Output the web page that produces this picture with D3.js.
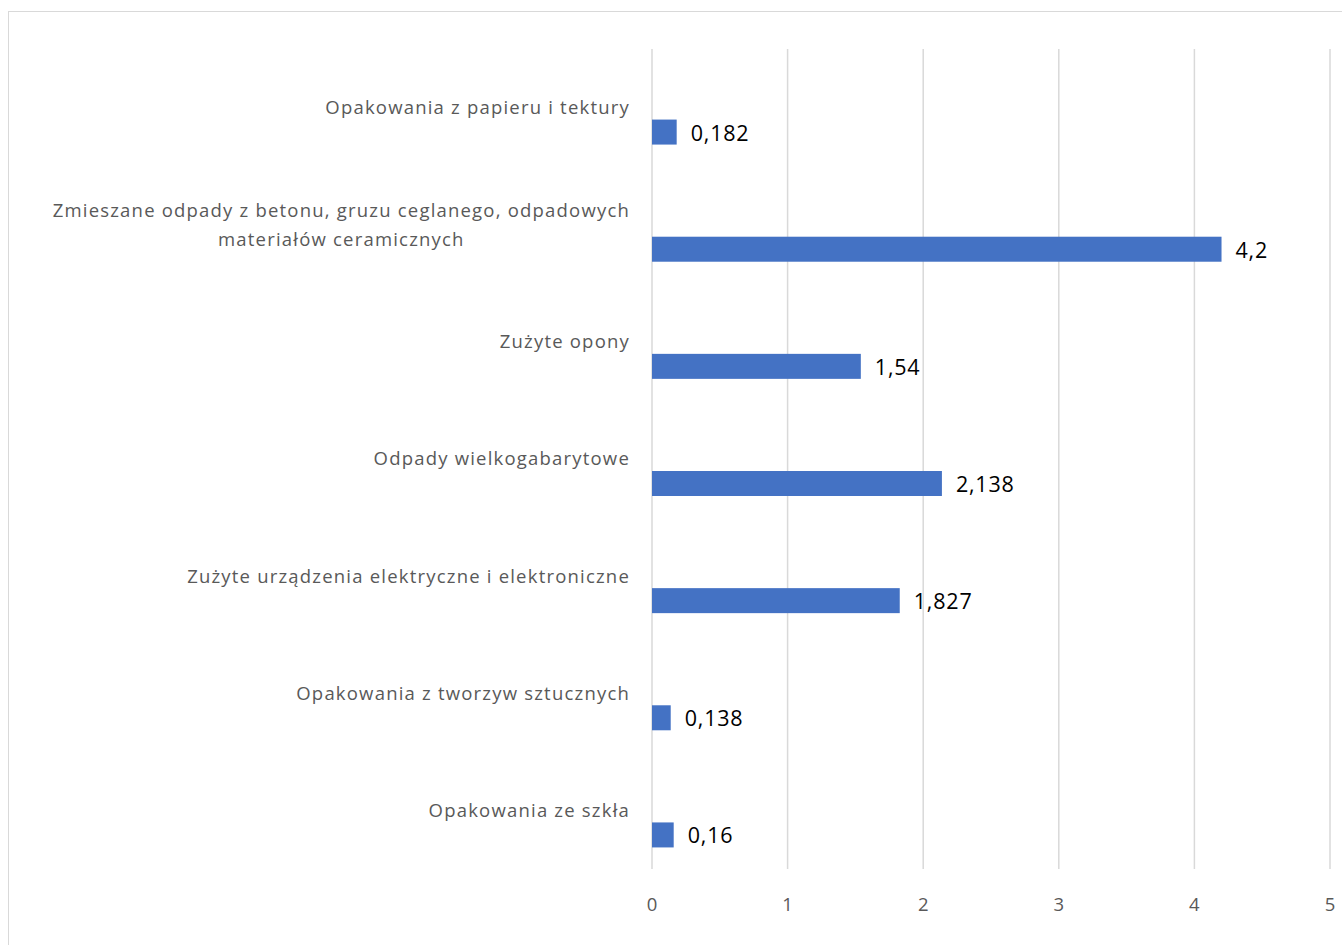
<!DOCTYPE html>
<html>
<head>
<meta charset="utf-8">
<script src="https://cdn.jsdelivr.net/npm/d3@7"></script>
<style>
  body { margin: 0; background: #fff; }
  svg { display: block; }
</style>
</head>
<body>
<svg id="chart" width="1342" height="945"></svg>
<script>
// dane z wykresu
const categories = [
  "Opakowania z papieru i tektury",
  "Zmieszane odpady z betonu, gruzu ceglanego, odpadowych|materiałów ceramicznych",
  "Zużyte opony",
  "Odpady wielkogabarytowe",
  "Zużyte urządzenia elektryczne i elektroniczne",
  "Opakowania z tworzyw sztucznych",
  "Opakowania ze szkła"
];
const values = [0.182, 4.2, 1.54, 2.138, 1.827, 0.138, 0.16];
const valueLabels = ["0,182", "4,2", "1,54", "2,138", "1,827", "0,138", "0,16"];
const xTicks = [0, 1, 2, 3, 4, 5];

const svg = d3.select('#chart');
const font = '"Open Sans", Lato, sans-serif';

// ramka obszaru wykresu
svg.append('rect')
  .attr('x', 8.5).attr('y', 11.5)
  .attr('width', 1345).attr('height', 945)
  .attr('fill', '#fff')
  .attr('stroke', '#d9d9d9');

const x = d3.scaleLinear().domain([0, 5]).range([652, 1330]);
const y = d3.scaleBand().domain(d3.range(categories.length)).range([49, 869]);

// linie siatki
svg.append('g')
  .selectAll('line')
  .data(xTicks)
  .join('line')
  .attr('x1', d => x(d)).attr('x2', d => x(d))
  .attr('y1', 49).attr('y2', 869)
  .attr('stroke', '#d9d9d9')
  .attr('stroke-width', 1.5);

// os X - etykiety
svg.append('g')
  .selectAll('text')
  .data(xTicks)
  .join('text')
  .attr('x', d => x(d))
  .attr('y', 905)
  .attr('dy', '0.35em')
  .attr('text-anchor', 'middle')
  .attr('fill', '#595959')
  .style('font', `18.5px ${font}`)
  .text(d => d);

// slupki
const barOff = 12, barH = 25;
svg.append('g')
  .selectAll('rect')
  .data(values)
  .join('rect')
  .attr('x', x(0))
  .attr('y', (d, i) => y(i) + y.bandwidth() / 2 + barOff)
  .attr('width', d => x(d) - x(0))
  .attr('height', barH)
  .attr('fill', '#4472C4');

// etykiety wartosci
svg.append('g')
  .selectAll('text')
  .data(values)
  .join('text')
  .attr('x', d => x(d) + 14)
  .attr('y', (d, i) => y(i) + y.bandwidth() / 2 + barOff + barH / 2 + 1)
  .attr('dy', '0.35em')
  .attr('fill', '#000')
  .style('font', `21.5px ${font}`)
  .style('letter-spacing', '0.8px')
  .text((d, i) => valueLabels[i]);

// etykiety kategorii
const catG = svg.append('g');
categories.forEach((c, i) => {
  const lines = c.split('|');
  const cy = y(i) + y.bandwidth() / 2;
  const lh = 29;
  const t = catG.append('text')
    .attr('fill', '#595959')
    .style('font', `18.5px ${font}`)
    .style('letter-spacing', '1.2px');
  lines.forEach((ln, j) => {
    t.append('tspan')
      .attr('x', 630)
      .attr('y', cy + (j - (lines.length - 1) / 2) * lh)
      .attr('dy', '0.35em')
      .text(ln);
  });
  // blok do prawej, linie wysrodkowane
  if (lines.length > 1) {
    const spans = t.selectAll('tspan').nodes();
    const maxW = d3.max(spans, s => s.getComputedTextLength());
    spans.forEach(s => {
      d3.select(s).attr('x', 630 - maxW / 2).attr('text-anchor', 'middle');
    });
  } else {
    t.attr('text-anchor', 'end');
  }
});
</script>
</body>
</html>
